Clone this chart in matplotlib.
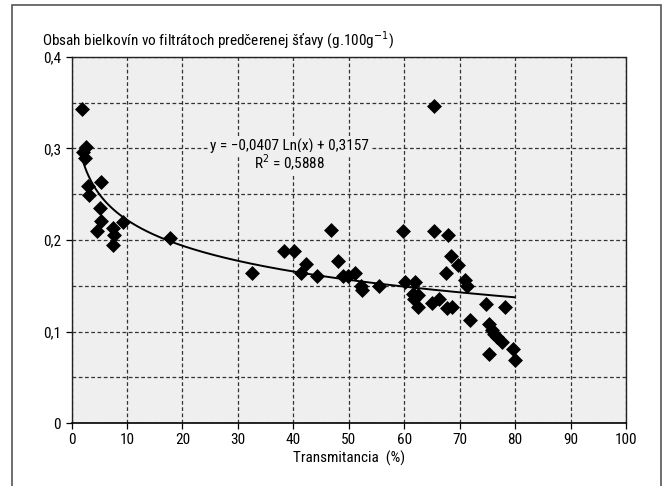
import numpy as np
import matplotlib
matplotlib.use("Agg")
import matplotlib.pyplot as plt
from matplotlib.patches import Rectangle
from matplotlib.ticker import MultipleLocator, FuncFormatter

plt.rcParams['font.family'] = ['Liberation Sans Narrow', 'Roboto Condensed', 'DejaVu Sans Condensed',
                               'Liberation Sans', 'DejaVu Sans']
plt.rcParams['font.stretch'] = 'condensed'

# Data: transmittance (%) and protein content (g/100 g)
transmitancia = [
    1.94, 2.6, 2.1, 2.4, 3.0, 3.15, 5.4, 5.1, 5.25, 4.6, 7.5, 7.6, 7.4, 9.2, 17.7,
    32.5, 38.4, 40.2, 42.3, 41.4, 44.2, 46.8, 48.0, 48.9, 49.8, 51.2, 52.2, 52.4, 55.4,
    65.3,
    59.8, 65.4, 67.9, 68.4, 69.7, 67.5, 60.2, 62.0, 70.9, 71.3, 61.5, 62.5, 61.7, 62.4,
    65.0, 66.3, 67.8, 68.7, 74.7, 78.1, 71.8, 75.3, 75.8, 76.2, 76.8, 77.6, 79.6, 79.9, 75.3,
]
bielkoviny = [
    0.343, 0.302, 0.296, 0.290, 0.259, 0.249, 0.263, 0.235, 0.221, 0.210, 0.213, 0.206, 0.194, 0.220, 0.202,
    0.164, 0.188, 0.188, 0.174, 0.164, 0.161, 0.211, 0.177, 0.161, 0.161, 0.164, 0.150, 0.145, 0.150,
    0.346,
    0.210, 0.210, 0.206, 0.182, 0.173, 0.164, 0.154, 0.154, 0.156, 0.150, 0.141, 0.140, 0.135, 0.127,
    0.131, 0.136, 0.126, 0.127, 0.130, 0.127, 0.113, 0.108, 0.102, 0.097, 0.094, 0.089, 0.081, 0.069, 0.075,
]
trend_a = -0.0407
trend_b = 0.3157
equation_text = "y = \u22120,0407 Ln(x) + 0,3157"
r2_text = "R$^2$ = 0,5888"
title_text = "Obsah bielkovín vo filtrátoch predčerenej šťavy (g.100g$^{-1}$)"
xlabel_text = "Transmitancia  (%)"

fig = plt.figure(figsize=(6.67, 4.86), dpi=100)
fig.patch.set_facecolor('white')

# outer frame
fig.add_artist(Rectangle((11.5/667, -0.05), (661 - 11.5)/667, 1 - 5/486 + 0.05,
                         transform=fig.transFigure, fill=False,
                         edgecolor='#555555', linewidth=1.2))

ax = fig.add_axes([71.5/667, 1 - 423/486, (626 - 71.5)/667, (423 - 57)/486])
ax.set_facecolor('#eeefee')
ax.set_xlim(0, 100)
ax.set_ylim(0, 0.4)

ax.xaxis.set_major_locator(MultipleLocator(10))
ax.yaxis.set_major_locator(MultipleLocator(0.1))
ax.yaxis.set_minor_locator(MultipleLocator(0.05))
ax.yaxis.set_major_formatter(FuncFormatter(lambda v, p: ('%g' % round(v, 2)).replace('.', ',')))

ax.grid(True, which='major', axis='both', color='#333333', linestyle=(0, (3, 2)), linewidth=0.9)
ax.grid(True, which='minor', axis='y', color='#333333', linestyle=(0, (3, 2)), linewidth=0.9)
ax.tick_params(axis='y', which='minor', length=0)
ax.tick_params(axis='both', which='major', direction='out', length=4, width=0.9,
               labelsize=11, colors='black')
ax.set_axisbelow(True)

for side in ['top', 'right']:
    ax.spines[side].set_linestyle((0, (3, 1)))
    ax.spines[side].set_linewidth(1.0)
    ax.spines[side].set_color('#222222')
ax.spines['bottom'].set_linewidth(1.2)
ax.spines['left'].set_linewidth(1.0)
ax.spines['left'].set_color('#222222')

ax.scatter(transmitancia, bielkoviny, marker='D', s=58, color='black', zorder=3, linewidths=0)

xs = np.linspace(min(transmitancia), max(transmitancia), 300)
ax.plot(xs, trend_a * np.log(xs) + trend_b, color='black', linewidth=1.4, zorder=4)

ax.text(39.3, 0.302, equation_text, ha='center', va='center', fontsize=11,
        bbox=dict(facecolor='#eeefee', edgecolor='none', pad=1.5), zorder=5)
ax.text(39.3, 0.284, r2_text, ha='center', va='center', fontsize=11,
        bbox=dict(facecolor='#eeefee', edgecolor='none', pad=1.0), zorder=5)

fig.text(42/667, 1 - 40/486, title_text, ha='left', va='center', fontsize=11)
ax.set_xlabel(xlabel_text, fontsize=11, labelpad=2.5)

fig.savefig('out.png', dpi=100)
